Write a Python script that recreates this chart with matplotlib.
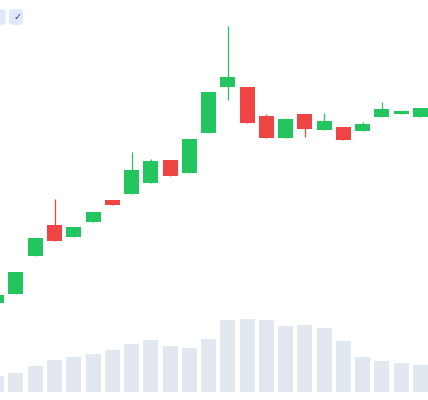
import matplotlib
matplotlib.use("Agg")
import matplotlib.pyplot as plt
from matplotlib.patches import FancyBboxPatch
import numpy as np

# OHLC (arbitrary price units)
opens = [99.7, 100.6, 104.4, 107.5, 106.3, 107.8, 110.0, 110.6, 111.7, 114.0, 112.7, 116.7,
         121.3, 121.3, 118.4, 116.2, 118.6, 117.0, 117.3, 116.9, 118.3, 118.6, 118.3]
closes = [100.5, 102.8, 106.2, 105.9, 107.3, 108.8, 109.5, 113.0, 113.9, 112.4, 116.1, 120.8,
          122.3, 117.7, 116.2, 118.1, 117.1, 117.9, 116.0, 117.6, 119.1, 118.9, 119.2]
highs = [100.5, 102.8, 106.2, 110.1, 107.3, 108.8, 110.0, 114.8, 114.1, 114.0, 116.1, 120.8,
         127.4, 121.3, 118.6, 118.1, 118.6, 118.7, 117.3, 117.8, 119.8, 118.9, 119.2]
lows = [99.7, 100.6, 104.4, 105.9, 106.3, 107.8, 109.5, 110.6, 111.7, 112.4, 112.7, 116.7,
        120.0, 117.7, 116.2, 116.2, 116.3, 117.0, 116.0, 116.9, 118.3, 118.6, 118.3]
volumes = [160, 190, 260, 320, 350, 380, 420, 480, 520, 460, 440, 530,
           720, 730, 720, 660, 670, 640, 510, 350, 310, 290, 270]

UP = "#22c55e"
DOWN = "#ef4444"
VOL = "#e2e8f0"

fig = plt.figure(figsize=(4.28, 4.0), dpi=100)
fig.patch.set_facecolor("white")

x = np.arange(len(opens))
xlim = (0.17, 22.39)

#volume underneath
ax_v = fig.add_axes([0, 0, 1, 1])
ax_v.bar(x, volumes, width=0.78, color=VOL, zorder=1)
ax_v.set_xlim(*xlim)
ax_v.set_ylim(-80, 3920)
ax_v.axis("off")

# candles on top
ax = fig.add_axes([0, 0, 1, 1], sharex=ax_v)
ax.patch.set_alpha(0)
for i in range(len(opens)):
    col = UP if closes[i] >= opens[i] else DOWN
    ax.vlines(x[i], lows[i], highs[i], color=col, linewidth=0.9, zorder=2)
    lo = min(opens[i], closes[i])
    h = abs(closes[i] - opens[i])
    ax.bar(x[i], max(h, 0.3), bottom=lo, width=0.78, color=col, zorder=3)
ax.set_xlim(*xlim)
ax.set_ylim(90, 130)
ax.axis("off")

# little toolbar buttons top-left
for bx in [-0.02, 0.021]:
    fig.patches.append(FancyBboxPatch((bx, 0.938), 0.033, 0.039,
                                      boxstyle="round,pad=0,rounding_size=0.008",
                                      transform=fig.transFigure, facecolor="#e0e9fb",
                                      edgecolor="none", zorder=5))
fig.text(0.0405, 0.957, "\u2713", ha="center", va="center", fontsize=7,
         color="#1e3a8a", family="DejaVu Sans", zorder=6)

fig.savefig("out.png", dpi=100)
